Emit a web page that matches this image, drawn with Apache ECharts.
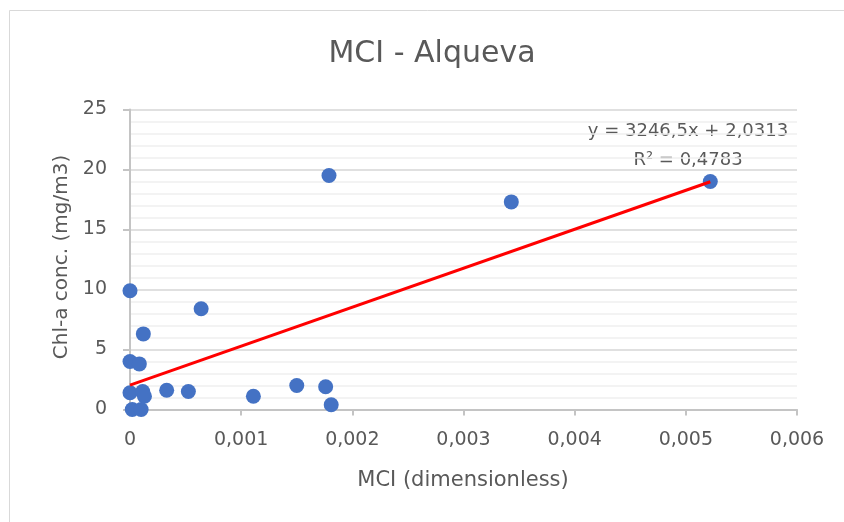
<!DOCTYPE html>
<html>
<head>
<meta charset="utf-8">
<script src="https://cdn.jsdelivr.net/npm/echarts@6/dist/echarts.min.js"></script>
<style>
html,body{margin:0;padding:0;background:#fff;}
#chart{width:844px;height:522px;}
</style>
</head>
<body>
<div id="chart"></div>
<script>
// Data
const mciValues = [0, 0.00064, 0.00012, 0, 0.000084, 0, 0.000114, 0.00013, 0.00033, 0.000525, 0.00111, 0.0015, 0.00176, 0.00181, 0.00002, 0.0001, 0.00179, 0.00343, 0.00522];
const chlValues = [9.9, 8.4, 6.3, 4.0, 3.8, 1.4, 1.5, 1.1, 1.6, 1.5, 1.1, 2.0, 1.9, 0.4, 0, 0, 19.5, 17.3, 19.0];
const trendX = [0, 0.00522];
const trendY = [2.0313, 18.98];
const xTicks = ['0', '0,001', '0,002', '0,003', '0,004', '0,005', '0,006'];
const yTicks = ['0', '5', '10', '15', '20', '25'];
const titleText = 'MCI - Alqueva';
const xName = 'MCI (dimensionless)';
const yName = 'Chl-a conc. (mg/m3)';
const eqLine1 = 'y = 3246,5x + 2,0313';
const eqLine2 = 'R² = 0,4783';

const FONT = '"DejaVu Sans", sans-serif';
const TXT = '#595959';

const chart = echarts.init(document.getElementById('chart'), null, {renderer: 'canvas'});
const scatterData = mciValues.map((x, i) => [x, chlValues[i]]);
const trendData = trendX.map((x, i) => [x, trendY[i]]);

chart.setOption({
  animation: false,
  backgroundColor: '#ffffff',
  grid: {left: 130, right: 47, top: 109.5, bottom: 112.5, containLabel: false},
  xAxis: {
    type: 'value', min: 0, max: 0.006, interval: 0.001,
    axisLine: {show: true, onZero: false, lineStyle: {color: '#C4C4C4', width: 2}},
    axisTick: {show: true, length: 6, lineStyle: {color: '#C4C4C4', width: 2}},
    splitLine: {show: false},
    axisLabel: {
      margin: 21, color: TXT, fontFamily: FONT, fontSize: 19,
      formatter: function (v) { return xTicks[Math.round(v / 0.001)]; }
    }
  },
  yAxis: {
    type: 'value', min: 0, max: 25, interval: 5,
    axisLine: {show: true, lineStyle: {color: '#C4C4C4', width: 2}},
    axisTick: {show: true, length: 7, lineStyle: {color: '#C4C4C4', width: 2}},
    splitLine: {show: true, lineStyle: {color: '#D6D6D6', width: 1.5}},
    minorTick: {show: false, splitNumber: 5},
    minorSplitLine: {show: true, lineStyle: {color: '#EFEFEF', width: 1.5}},
    axisLabel: {
      margin: 23, color: TXT, fontFamily: FONT, fontSize: 19,
      formatter: function (v) { return yTicks[Math.round(v / 5)]; }
    }
  },
  series: [
    {
      type: 'scatter', data: scatterData, symbol: 'circle', symbolSize: 15,
      itemStyle: {color: '#4472C4', opacity: 1}, z: 2
    },
    {
      type: 'line', data: trendData, symbol: 'none', showSymbol: false,
      lineStyle: {color: '#FF0000', width: 3}, z: 3, silent: true
    }
  ],
  graphic: [
    {type: 'rect', silent: true, z: -10,
      shape: {x: 9.5, y: 10.5, width: 1000, height: 1000},
      style: {fill: 'none', stroke: '#D9D9D9', lineWidth: 1}},
    {type: 'text', silent: true, x: 432, y: 54,
      style: {text: titleText, font: '30px ' + FONT, fill: TXT, textAlign: 'center', textVerticalAlign: 'middle'}},
    {type: 'text', silent: true, x: 463, y: 481,
      style: {text: xName, font: '21px ' + FONT, fill: TXT, textAlign: 'center', textVerticalAlign: 'middle'}},
    {type: 'text', silent: true, x: 62, y: 257, rotation: Math.PI / 2,
      style: {text: yName, font: '20px ' + FONT, fill: TXT, textAlign: 'center', textVerticalAlign: 'middle'}},
    {type: 'text', silent: true, x: 688, y: 131,
      style: {text: eqLine1, font: '18px ' + FONT, fill: TXT, textAlign: 'center', textVerticalAlign: 'middle'}},
    {type: 'text', silent: true, x: 688, y: 160,
      style: {text: eqLine2, font: '18px ' + FONT, fill: TXT, textAlign: 'center', textVerticalAlign: 'middle'}}
  ]
});
</script>
</body>
</html>
